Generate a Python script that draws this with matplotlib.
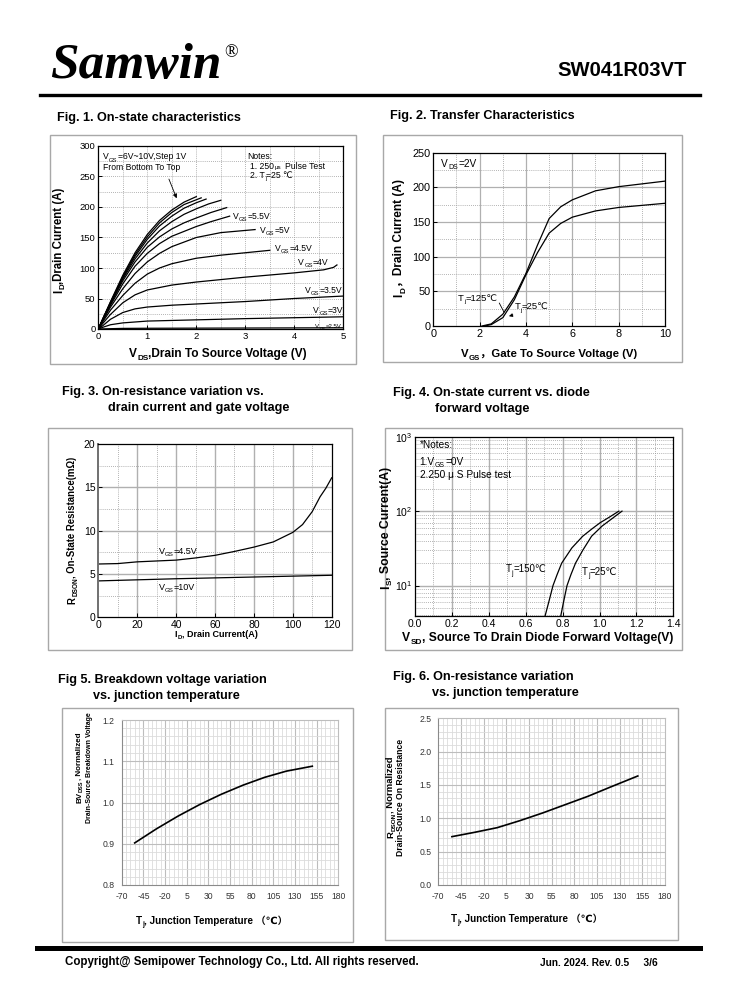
import matplotlib
matplotlib.use("Agg")
import matplotlib.pyplot as plt
from matplotlib import font_manager as fm
from matplotlib.patches import Rectangle
from matplotlib.lines import Line2D
import numpy as np

# ---------------- data ----------------
# Fig 1: on-state characteristics (VDS [V] -> ID [A]) per VGS
f1_v10_x = [0, 0.1, 0.25, 0.5, 0.75, 1.0, 1.25, 1.5, 1.75, 2.0]
f1_v10_y = [0, 18, 45, 88, 125, 155, 178, 195, 208, 217]
f1_v9_x = [0, 0.1, 0.25, 0.5, 0.75, 1.0, 1.25, 1.5, 1.75, 2.1]
f1_v9_y = [0, 18, 44, 86, 122, 151, 174, 191, 204, 215]
f1_v8_x = [0, 0.1, 0.25, 0.5, 0.75, 1.0, 1.25, 1.5, 1.75, 2.0, 2.2]
f1_v8_y = [0, 18, 43, 84, 119, 147, 169, 185, 198, 207, 213]
f1_v7_x = [0, 0.1, 0.25, 0.5, 0.75, 1.0, 1.25, 1.5, 1.75, 2.0, 2.25, 2.5]
f1_v7_y = [0, 17, 42, 82, 115, 141, 161, 176, 188, 197, 205, 211]
f1_v6_x = [0, 0.1, 0.25, 0.5, 0.75, 1.0, 1.25, 1.5, 1.75, 2.0, 2.3, 2.62]
f1_v6_y = [0, 17, 41, 79, 110, 134, 151, 164, 174, 182, 191, 199]
f1_v55_x = [0, 0.1, 0.25, 0.5, 0.75, 1.0, 1.25, 1.5, 2.0, 2.3, 2.68]
f1_v55_y = [0, 16, 39, 74, 103, 124, 140, 152, 168, 176, 185]
f1_v5_x = [0, 0.1, 0.25, 0.5, 0.75, 1.0, 1.25, 1.5, 2.0, 2.5, 3.2]
f1_v5_y = [0, 15, 36, 66, 91, 110, 124, 135, 150, 158, 163]
f1_v45_x = [0, 0.1, 0.25, 0.5, 0.75, 1.0, 1.25, 1.5, 2.0, 2.5, 3.0, 3.5]
f1_v45_y = [0, 13, 31, 55, 75, 90, 100, 107, 116, 121, 125, 129]
f1_v4_x = [0, 0.1, 0.25, 0.5, 0.75, 1.0, 1.5, 2.0, 3.0, 4.0, 4.6, 4.8, 4.87]
f1_v4_y = [0, 10, 24, 43, 56, 64, 72, 77, 85, 92, 97, 101, 105]
f1_v35_x = [0, 0.1, 0.25, 0.5, 0.75, 1.0, 1.5, 2.0, 3.0, 4.0, 5.0]
f1_v35_y = [0, 6, 16, 27, 33, 36, 39, 41, 45, 50, 54]
f1_v3_x = [0, 0.1, 0.25, 0.5, 1.0, 2.0, 3.0, 4.0, 5.0]
f1_v3_y = [0, 3, 7, 10, 13, 15, 17, 18.5, 20]
f1_v25_x = [0, 0.5, 1.0, 5.0]
f1_v25_y = [0, 1, 1.2, 2]

# Fig 2: transfer characteristics (VGS [V] -> ID [A])
f2_t25_x = [2.2, 2.5, 3.0, 3.5, 4.0, 4.5, 5.0, 5.5, 6.0, 7.0, 8.0, 9.0, 10.0]
f2_t25_y = [0, 2, 12, 38, 74, 106, 134, 148, 157, 166, 171, 174, 177]
f2_t125_x = [2.1, 2.5, 3.0, 3.5, 4.0, 4.5, 5.0, 5.5, 6.0, 7.0, 8.0, 9.0, 10.0]
f2_t125_y = [0, 3, 17, 42, 76, 117, 155, 172, 182, 195, 201, 205, 209]

# Fig 3: RDS(on) vs ID
f3_id45 = [0, 10, 20, 30, 40, 50, 60, 70, 80, 90, 100, 105, 110, 114, 117, 120]
f3_r45 = [6.15, 6.2, 6.4, 6.5, 6.6, 6.85, 7.15, 7.6, 8.1, 8.7, 9.8, 10.7, 12.2, 13.9, 14.9, 16.1]
f3_id10 = [0, 40, 80, 120]
f3_r10 = [4.2, 4.45, 4.65, 4.85]

# Fig 4: body diode forward (VSD [V] -> IS [A])
f4_v150 = [0.705, 0.725, 0.748, 0.77, 0.795, 0.85, 0.909, 0.96, 1.004, 1.05, 1.105]
f4_i150 = [3.9, 6, 10, 14, 20, 32, 46, 58, 70, 82, 100]
f4_v25 = [0.79, 0.805, 0.824, 0.845, 0.87, 0.91, 0.957, 1.014, 1.07, 1.122]
f4_i25 = [3.9, 6, 10, 14, 20, 30, 46, 63, 80, 100]

# Fig 5 / Fig 6: vs junction temperature
f5_tj = [-55, -30, -5, 20, 45, 70, 95, 120, 150]
f5_bv = [0.902, 0.936, 0.967, 0.995, 1.02, 1.042, 1.061, 1.076, 1.088]
f6_tj = [-55, -30, -5, 20, 45, 70, 95, 120, 150]
f6_rn = [0.725, 0.79, 0.86, 0.965, 1.08, 1.205, 1.33, 1.47, 1.635]

f1_xticks = [0, 1, 2, 3, 4, 5]
f1_yticks = [0, 50, 100, 150, 200, 250, 300]
f2_xticks = [0, 2, 4, 6, 8, 10]
f2_yticks = [0, 50, 100, 150, 200, 250]
f3_xticks = [0, 20, 40, 60, 80, 100, 120]
f3_yticks = [0, 5, 10, 15, 20]
f4_xticks = [0.0, 0.2, 0.4, 0.6, 0.8, 1.0, 1.2, 1.4]
tj_ticks = [-70, -45, -20, 5, 30, 55, 80, 105, 130, 155, 180]
f5_yticks = [0.8, 0.9, 1.0, 1.1, 1.2]
f6_yticks = [0.0, 0.5, 1.0, 1.5, 2.0, 2.5]

# ---------------- setup ----------------
W, H = 738, 1000
names = {f.name for f in fm.fontManager.ttflist}
FAM = ['Liberation Sans', 'DejaVu Sans', 'Noto Sans CJK SC']
NARROW = ['Liberation Sans Narrow'] + FAM if 'Liberation Sans Narrow' in names else FAM
plt.rcParams['font.family'] = FAM
plt.rcParams['axes.unicode_minus'] = False
plt.rcParams['mathtext.fontset'] = 'custom'
plt.rcParams['mathtext.rm'] = 'Liberation Sans'
plt.rcParams['mathtext.it'] = 'Liberation Sans:italic'
plt.rcParams['mathtext.bf'] = 'Liberation Sans:bold'

fig = plt.figure(figsize=(W / 100, H / 100), dpi=100)
fig.patch.set_facecolor('white')
R = fig.canvas.get_renderer()


def fx(x):
    return x / W


def fy(y):
    return 1 - y / H


def axes_px(l, t, r, b):
    return fig.add_axes([fx(l), fy(b), (r - l) / W, (b - t) / H])


def frame(l, t, r, b):
    fig.add_artist(Rectangle((fx(l), fy(b)), (r - l) / W, (b - t) / H, transform=fig.transFigure,
                             fill=False, edgecolor='#a8a8a8', lw=1.0))


def rich(x, y, parts, rot=0, align='left', family=None, color='black'):
    """parts: (text, size, weight, shift_px, gap_px) ; x,y pixel coords from top-left (baseline)."""
    fam = family or FAM
    objs = []
    for s, size, weight, shift, gap in parts:
        t = fig.text(0, 0, s, fontsize=size, fontweight=weight, family=fam, rotation=rot,
                     rotation_mode='anchor', ha='left', va='baseline', color=color)
        objs.append(t)
    lens = []
    for t in objs:
        bb = t.get_window_extent(R)
        lens.append(bb.height if rot == 90 else bb.width)
    total = sum(lens) + sum(p[4] for p in parts)
    pos = {'left': 0, 'center': -total / 2, 'right': -total}[align]
    for t, p, L in zip(objs, parts, lens):
        pos += p[4]
        if rot == 90:
            px, py = x - p[3], y - pos
        else:
            px, py = x + pos, y - p[3]
        t.set_position((fx(px), fy(py)))
        pos += L
    return objs


def d2p(ax, x, y):
    X, Y = ax.transData.transform((x, y))
    return X, H - Y


def sub_label(x, y, main, sub, rest, size, rot=0, align='center', weight='bold', gap=0, color='black'):
    return rich(x, y, [(main, size, weight, 0, 0), (sub, size * 0.68, weight, -size * 0.35, 0.3),
                       (rest, size, weight, 0, gap)], rot=rot, align=align, color=color)


def style_axes(ax, tsize, tcolor='black', length=3):
    for s in ax.spines.values():
        s.set_color('black')
        s.set_linewidth(0.9)
    ax.tick_params(labelsize=tsize, colors=tcolor, length=length, width=0.7, direction='in', pad=2)
    for lab in ax.get_xticklabels() + ax.get_yticklabels():
        lab.set_family(FAM)


# ---------------- header / footer ----------------
fig.text(fx(50), fy(78), 'Samwin', family=['Liberation Serif'], fontsize=37, fontweight='bold',
         fontstyle='italic', ha='left', va='baseline')
fig.text(fx(224), fy(57), '®', family=['Liberation Serif', 'DejaVu Sans'], fontsize=13, ha='left', va='baseline')
fig.text(fx(687), fy(76), 'SW041R03VT', family=NARROW, fontsize=14.6, fontweight='bold', ha='right', va='baseline')
fig.add_artist(Line2D([fx(40), fx(700)], [fy(95), fy(95)], color='black', lw=2.4, transform=fig.transFigure))
fig.add_artist(Line2D([fx(37), fx(700)], [fy(948), fy(948)], color='black', lw=3.6, transform=fig.transFigure))
fig.text(fx(65), fy(965), 'Copyright@ Semipower Technology Co., Ltd. All rights reserved.', family=NARROW,
         fontsize=8.3, fontweight='bold', ha='left', va='baseline')
fig.text(fx(540), fy(966), 'Jun. 2024. Rev. 0.5     3/6', family=NARROW, fontsize=7.3, fontweight='bold',
         ha='left', va='baseline')

# titles
TS = 9.1
fig.text(fx(57), fy(121), 'Fig. 1. On-state characteristics', fontsize=TS, fontweight='bold', va='baseline')
fig.text(fx(390), fy(119), 'Fig. 2. Transfer Characteristics', fontsize=TS, fontweight='bold', va='baseline')
fig.text(fx(62), fy(395), 'Fig. 3. On-resistance variation vs.', fontsize=TS, fontweight='bold', va='baseline')
fig.text(fx(108), fy(411), 'drain current and gate voltage', fontsize=TS, fontweight='bold', va='baseline')
fig.text(fx(393), fy(396), 'Fig. 4. On-state current vs. diode', fontsize=TS, fontweight='bold', va='baseline')
fig.text(fx(435), fy(412), 'forward voltage', fontsize=TS, fontweight='bold', va='baseline')
fig.text(fx(58), fy(683), 'Fig 5. Breakdown voltage variation', fontsize=TS, fontweight='bold', va='baseline')
fig.text(fx(93), fy(699), 'vs. junction temperature', fontsize=TS, fontweight='bold', va='baseline')
fig.text(fx(393), fy(680), 'Fig. 6. On-resistance variation', fontsize=TS, fontweight='bold', va='baseline')
fig.text(fx(432), fy(696), 'vs. junction temperature', fontsize=TS, fontweight='bold', va='baseline')

# frames
frame(50, 135, 356, 364)
frame(383, 135, 682, 362)
frame(48, 428, 352, 650)
frame(385, 428, 682, 650)
frame(62, 708, 353, 942)
frame(385, 708, 678, 940)

# ---------------- Fig 1 ----------------
ax1 = axes_px(98.3, 146, 343.3, 329)
ax1.set_xlim(0, 5)
ax1.set_ylim(0, 300)
for v in np.arange(0.5, 5, 0.5):
    ax1.axvline(v, color='#9a9a9a', lw=0.6, ls=(0, (1, 1.5)), zorder=0)
for v in np.arange(25, 300, 25):
    ax1.axhline(v, color='#9a9a9a', lw=0.6, ls=(0, (1, 1.5)), zorder=0)
for xs, ys in [(f1_v10_x, f1_v10_y), (f1_v9_x, f1_v9_y), (f1_v8_x, f1_v8_y), (f1_v7_x, f1_v7_y),
               (f1_v6_x, f1_v6_y), (f1_v55_x, f1_v55_y), (f1_v5_x, f1_v5_y), (f1_v45_x, f1_v45_y),
               (f1_v4_x, f1_v4_y), (f1_v35_x, f1_v35_y), (f1_v3_x, f1_v3_y), (f1_v25_x, f1_v25_y)]:
    ax1.plot(xs, ys, color='black', lw=0.9)
ax1.set_xticks(f1_xticks)
ax1.set_yticks(f1_yticks)
style_axes(ax1, 6.8)
ax1.annotate('', xy=(1.62, 210), xytext=(1.42, 250),
             arrowprops=dict(arrowstyle='-|>', color='black', lw=0.6, mutation_scale=6))
sub_label(218, 357, 'V', 'DS', ',Drain To Source Voltage (V)', 8.6)
sub_label(62, 240, 'I', 'D', ',Drain Current (A)', 8.3, rot=90)
px, py = d2p(ax1, 0.1, 278)
sub_label(px, py, 'V', 'GS', '=6V~10V,Step 1V', 6.2, align='left', weight='normal')
px, py = d2p(ax1, 0.1, 261)
rich(px, py, [('From Bottom To Top', 6.2, 'normal', 0, 0)])
px, py = d2p(ax1, 3.05, 279)
rich(px, py, [('Notes:', 6.2, 'normal', 0, 0)])
px, py = d2p(ax1, 3.1, 263)
rich(px, py, [('1. 250', 6.2, 'normal', 0, 0), ('μs', 4.5, 'normal', 0, 0.5), ('Pulse Test', 6.2, 'normal', 0, 4)])
px, py = d2p(ax1, 3.1, 247)
rich(px, py, [('2. T', 6.2, 'normal', 0, 0), ('j', 4, 'normal', -2, 0.3), ('=25 ℃', 6.2, 'normal', 0, 0)])
for xv, yv, num in [(2.75, 181, '=5.5V'), (3.3, 158, '=5V'), (3.6, 128, '=4.5V'), (4.08, 105, '=4V'),
                    (4.22, 59, '=3.5V'), (4.39, 26, '=3V')]:
    px, py = d2p(ax1, xv, yv)
    sub_label(px, py, 'V', 'GS', num, 6.2, align='left', weight='normal')
px, py = d2p(ax1, 4.43, 1.5)
sub_label(px, py, 'V', 'GS', '=2.5V', 4.3, align='left', weight='normal')

# ---------------- Fig 2 ----------------
ax2 = axes_px(433.3, 152.7, 665, 326)
ax2.set_xlim(0, 10)
ax2.set_ylim(0, 250)
for v in range(1, 10):
    if v % 2 == 0:
        ax2.axvline(v, color='#b0b0b0', lw=0.9, zorder=0)
    else:
        ax2.axvline(v, color='#9a9a9a', lw=0.6, ls=(0, (1, 1.5)), zorder=0)
for v in range(25, 250, 25):
    if v % 50 == 0:
        ax2.axhline(v, color='#b0b0b0', lw=0.9, zorder=0)
    else:
        ax2.axhline(v, color='#9a9a9a', lw=0.6, ls=(0, (1, 1.5)), zorder=0)
ax2.plot(f2_t25_x, f2_t25_y, color='black', lw=0.9)
ax2.plot(f2_t125_x, f2_t125_y, color='black', lw=0.9)
ax2.set_xticks(f2_xticks)
ax2.set_yticks(f2_yticks)
style_axes(ax2, 7.8)
sub_label(549, 357, 'V', 'GS', '，Gate To Source Voltage (V)', 8.2)
sub_label(402, 238, 'I', 'D', '，Drain Current (A)', 8.6, rot=90)
px, py = d2p(ax2, 0.35, 230)
sub_label(px, py, 'V', 'DS', '=2V', 7.3, align='left', weight='normal')
px, py = d2p(ax2, 1.05, 36)
sub_label(px, py, 'T', 'j', '=125℃', 6.8, align='left', weight='normal')
px, py = d2p(ax2, 3.5, 24)
sub_label(px, py, 'T', 'j', '=25℃', 6.8, align='left', weight='normal')
ax2.plot([2.85, 3.05], [33, 20], color='black', lw=0.6)
ax2.annotate('', xy=(3.15, 13), xytext=(3.55, 17),
             arrowprops=dict(arrowstyle='-|>', color='black', lw=0.6, mutation_scale=5))

# ---------------- Fig 3 ----------------
ax3 = axes_px(98.3, 444, 331.7, 617.3)
ax3.set_xlim(0, 120)
ax3.set_ylim(0, 20)
for v in range(10, 120, 10):
    if v % 20 == 0:
        ax3.axvline(v, color='#b0b0b0', lw=1.0, zorder=0)
    else:
        ax3.axvline(v, color='#9a9a9a', lw=0.6, ls=(0, (1, 1.5)), zorder=0)
for v in np.arange(2.5, 20, 2.5):
    if v % 5 == 0:
        ax3.axhline(v, color='#b0b0b0', lw=1.0, zorder=0)
    else:
        ax3.axhline(v, color='#9a9a9a', lw=0.6, ls=(0, (1, 1.5)), zorder=0)
ax3.plot(f3_id45, f3_r45, color='black', lw=0.9)
ax3.plot(f3_id10, f3_r10, color='black', lw=0.9)
ax3.set_xticks(f3_xticks)
ax3.set_yticks(f3_yticks)
style_axes(ax3, 7.5)
ax3.spines['left'].set_color('#707070')
ax3.spines['left'].set_linewidth(1.4)
sub_label(216, 637, 'I', 'D', ', Drain Current(A)', 6.5)
sub_label(75, 530, 'R', 'DSON', ', On-State Resistance(mΩ)', 6.9, rot=90)
px, py = d2p(ax3, 31, 7.3)
sub_label(px, py, 'V', 'GS', '=4.5V', 6.5, align='left', weight='normal')
px, py = d2p(ax3, 31, 3.2)
sub_label(px, py, 'V', 'GS', '=10V', 6.5, align='left', weight='normal')

# ---------------- Fig 4 ----------------
ax4 = axes_px(415, 436.7, 673.3, 616)
ax4.set_yscale('log')
ax4.set_xlim(0, 1.4)
ax4.set_ylim(3.9, 1000)
for v in np.arange(0.1, 1.4, 0.1):
    if round(v * 10) % 2 == 0:
        ax4.axvline(v, color='#b0b0b0', lw=1.0, zorder=0)
    else:
        ax4.axvline(v, color='#9a9a9a', lw=0.6, ls=(0, (1, 1.5)), zorder=0)
for dec in [1, 10, 100]:
    for m in range(1, 10):
        val = dec * m
        if val < 3.9:
            continue
        if m == 1:
            ax4.axhline(val, color='#b0b0b0', lw=1.0, zorder=0)
        else:
            ax4.axhline(val, color='#9a9a9a', lw=0.6, ls=(0, (1, 1.5)), zorder=0)
ax4.plot(f4_v150, f4_i150, color='black', lw=0.9)
ax4.plot(f4_v25, f4_i25, color='black', lw=0.9)
ax4.set_xticks(f4_xticks)
ax4.set_xticklabels(['%.1f' % v for v in f4_xticks])
ax4.set_yticks([10, 100, 1000])
ax4.set_yticklabels(['$10^1$', '$10^2$', '$10^3$'])
ax4.yaxis.set_minor_locator(matplotlib.ticker.NullLocator())
style_axes(ax4, 7.5)
sub_label(538, 641, 'V', 'SD', ', Source To Drain Diode Forward Voltage(V)', 8.7)
sub_label(389, 528, 'I', 'S', ', Source Current(A)', 8.8, rot=90)
px, py = d2p(ax4, 0.49, 15)
sub_label(px, py, 'T', 'j', '=150℃', 7, align='left', weight='normal')
px, py = d2p(ax4, 0.905, 14)
sub_label(px, py, 'T', 'j', '=25℃', 7, align='left', weight='normal')
px, py = d2p(ax4, 0.025, 700)
rich(px, py, [('*Notes:', 7.3, 'normal', 0, 0)])
px, py = d2p(ax4, 0.025, 420)
sub_label(px, py, '1.V', 'GS', '=0V', 7.3, align='left', weight='normal')
px, py = d2p(ax4, 0.025, 275)
rich(px, py, [('2.250 μ S Pulse test', 7.3, 'normal', 0, 0)])

# ---------------- Fig 5 & 6 ----------------
def temp_axes(ax, ymin, ymax, ystep, yticks):
    ax.set_xlim(-70, 180)
    ax.set_ylim(ymin, ymax)
    for v in range(-65, 180, 5):
        major = (v + 70) % 25 == 0
        ax.axvline(v, color='#bdbdbd' if major else '#dcdcdc', lw=0.8 if major else 0.6, zorder=0)
    n = int(round((ymax - ymin) / ystep))
    for i in range(1, n):
        v = ymin + i * ystep
        major = i % 5 == 0
        ax.axhline(v, color='#bdbdbd' if major else '#dcdcdc', lw=0.8 if major else 0.6, zorder=0)
    ax.set_xticks(tj_ticks)
    ax.set_yticks(yticks)
    ax.set_yticklabels(['%.1f' % v for v in yticks])
    for s in ax.spines.values():
        s.set_color('#bdbdbd')
        s.set_linewidth(0.8)
    ax.spines['left'].set_color('#8a8a8a')
    ax.spines['bottom'].set_color('#8a8a8a')
    ax.tick_params(labelsize=6.2, colors='#333333', length=0, pad=5)
    for lab in ax.get_xticklabels() + ax.get_yticklabels():
        lab.set_family(FAM)


ax5 = axes_px(121.7, 720, 338.3, 885)
temp_axes(ax5, 0.8, 1.2, 0.02, f5_yticks)
ax5.plot(f5_tj, f5_bv, color='black', lw=1.2)
sub_label(212, 924, 'T', 'j', ', Junction Temperature （℃）', 7.1)
sub_label(81, 768, 'BV', 'DSS', ', Normalized', 5.8, rot=90)
rich(91, 768, [('Drain-Source Breakdown Voltage', 5.0, 'bold', 0, 0)], rot=90, align='center')

ax6 = axes_px(438.3, 718.3, 665, 885)
temp_axes(ax6, 0.0, 2.5, 0.1, f6_yticks)
ax6.plot(f6_tj, f6_rn, color='black', lw=1.2)
sub_label(527, 922, 'T', 'j', ', Junction Temperature （℃）', 7.1)
sub_label(393, 797, 'R', 'DSON', ', Normalized', 6.8, rot=90)
rich(403, 797, [('Drain-Source On Resistance', 6.2, 'bold', 0, 0)], rot=90, align='center')

fig.savefig('out.png', dpi=100, facecolor='white')
